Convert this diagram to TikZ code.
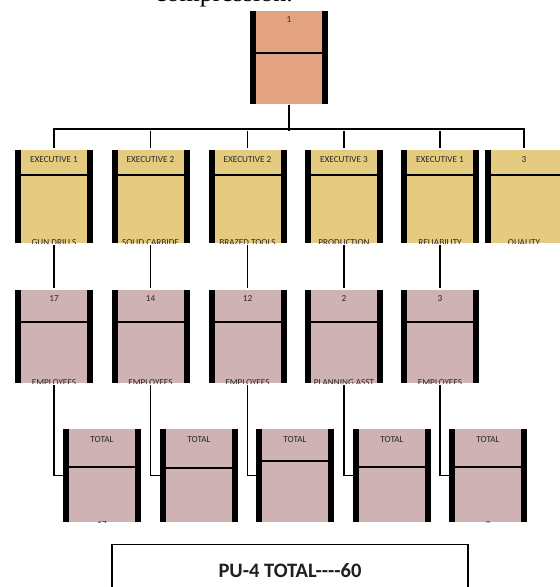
\documentclass[tikz,border=0pt]{standalone}
\usepackage{fontspec}
\setmainfont{Carlito}
\newfontfamily\serifx{Liberation Serif}
\definecolor{salmon}{RGB}{227,162,128}
\definecolor{gold}{RGB}{229,203,128}
\definecolor{mauve}{RGB}{207,178,179}
\definecolor{txt}{RGB}{40,40,40}
\tikzset{
 body/.style={inner sep=0pt, outer sep=0pt, minimum height=93pt, minimum width=78pt, draw=none},
 bar/.style={fill=black},
 divline/.style={line width=1.4pt},
 conn/.style={line width=1.4pt},
 lbl/.style={font=\fontsize{9.2}{10}\selectfont, text=txt, inner sep=0pt},
}
% #1 name #2 cx #3 top #4 colour #5 divider offset #6 top text #7 top text offset #8 bottom text #9 baseline below bottom
\newcommand{\obox}[9]{%
 \node[body, fill=#4] (#1) at (#2,#3+46.5) {};
 \fill[bar] (#1.north west) rectangle ([xshift=6pt]#1.south west);
 \fill[bar] (#1.north east) rectangle ([xshift=-6pt]#1.south east);
 \draw[divline] ([yshift=-#5pt]#1.north west) -- ([yshift=-#5pt]#1.north east);
 \node[lbl] (#1-t) at ([yshift=-#7pt]#1.north) {#6};
 \begin{scope}
 \clip (#1.north west) rectangle (#1.south east);
 \node[lbl, anchor=base] (#1-b) at ([yshift=-#9pt]#1.south) {#8};
 \end{scope}
}
\begin{document}
\begin{tikzpicture}[x=1pt,y=-1pt]
\useasboundingbox (0,0) rectangle (560,587);
\clip (0,0) rectangle (560,587);
\fill[white] (0,0) rectangle (560,587);

\node[font=\serifx\fontsize{26}{28}\selectfont, anchor=base, inner sep=0pt] (cap) at (224,1.5) {compression.};

% top box
\obox{top}{289}{11}{salmon}{42}{1}{9}{}{2}

% row 1
\obox{e1}{54}{150}{gold}{25}{EXECUTIVE 1}{10}{GUN DRILLS}{2.2}
\obox{e2}{150.5}{150}{gold}{25}{EXECUTIVE 2}{10}{SOLID CARBIDE}{2.2}
\obox{e3}{247.5}{150}{gold}{25}{EXECUTIVE 2}{10}{BRAZED TOOLS}{2.2}
\obox{e4}{344}{150}{gold}{25}{EXECUTIVE 3}{10}{PRODUCTION}{2.2}
\obox{e5}{440}{150}{gold}{25}{EXECUTIVE 1}{10}{RELIABILITY}{2.2}
\node[body, fill=gold] (q) at (524,196.5) {};
\fill[bar] (q.north west) rectangle ([xshift=6pt]q.south west);
\draw[divline] ([yshift=-25pt]q.north west) -- ([yshift=-25pt]q.north east);
\node[lbl] (q-t) at ([yshift=-10pt]q.north) {3};
\begin{scope}
 \clip (q.north west) rectangle (q.south east);
 \node[lbl, anchor=base] (q-b) at ([yshift=-2.2pt]q.south) {QUALITY};
\end{scope}

% row 2
\obox{p1}{54}{290}{mauve}{32}{17}{9}{EMPLOYEES}{2.2}
\obox{p2}{150.5}{290}{mauve}{32}{14}{9}{EMPLOYEES}{2.2}
\obox{p3}{247.5}{290}{mauve}{32}{12}{9}{EMPLOYEES}{2.2}
\obox{p4}{344}{290}{mauve}{32}{2}{9}{PLANNING ASST}{2.2}
\obox{p5}{440}{290}{mauve}{32}{3}{9}{EMPLOYEES}{2.2}

% row 3
\obox{t1}{102}{429}{mauve}{38}{TOTAL}{11}{17}{5}
\obox{t2}{199}{429}{mauve}{39}{TOTAL}{11}{}{5}
\obox{t3}{295}{429}{mauve}{32}{TOTAL}{11}{}{5}
\obox{t4}{392}{429}{mauve}{38}{TOTAL}{11}{}{5}
\obox{t5}{488}{429}{mauve}{38}{TOTAL}{11}{3}{5}

% connectors
\coordinate (busL) at (54,131);
\draw[line width=2.5pt] ([yshift=-1pt]top.south) -- (top.south |- busL);
\draw[conn] ([yshift=2pt]e1.north) |- ([yshift=2pt]q.north |- busL) -- ([yshift=2pt]q.north);
\foreach \n in {e2,e3,e4,e5}{
 \draw[conn] (\n.north |- busL) -- ([yshift=2pt]\n.north);
}
\foreach \a/\b/\c in {e1/p1/t1,e2/p2/t2,e3/p3/t3,e4/p4/t4,e5/p5/t5}{
 \draw[conn] ([yshift=-2pt]\a.south) -- ([yshift=2pt]\b.north);
 \draw[conn] ([yshift=-2pt]\b.south) |- (\c.west);
}

% summary
\node[draw, line width=1.2pt, minimum width=356pt, minimum height=52pt, anchor=north, inner sep=0pt,
 font=\bfseries\fontsize{20.5}{22}\selectfont, text=black!88] (sum) at (290,544) {PU{-}4 TOTAL{-}{-}{-}{-}60};
\end{tikzpicture}
\end{document}
